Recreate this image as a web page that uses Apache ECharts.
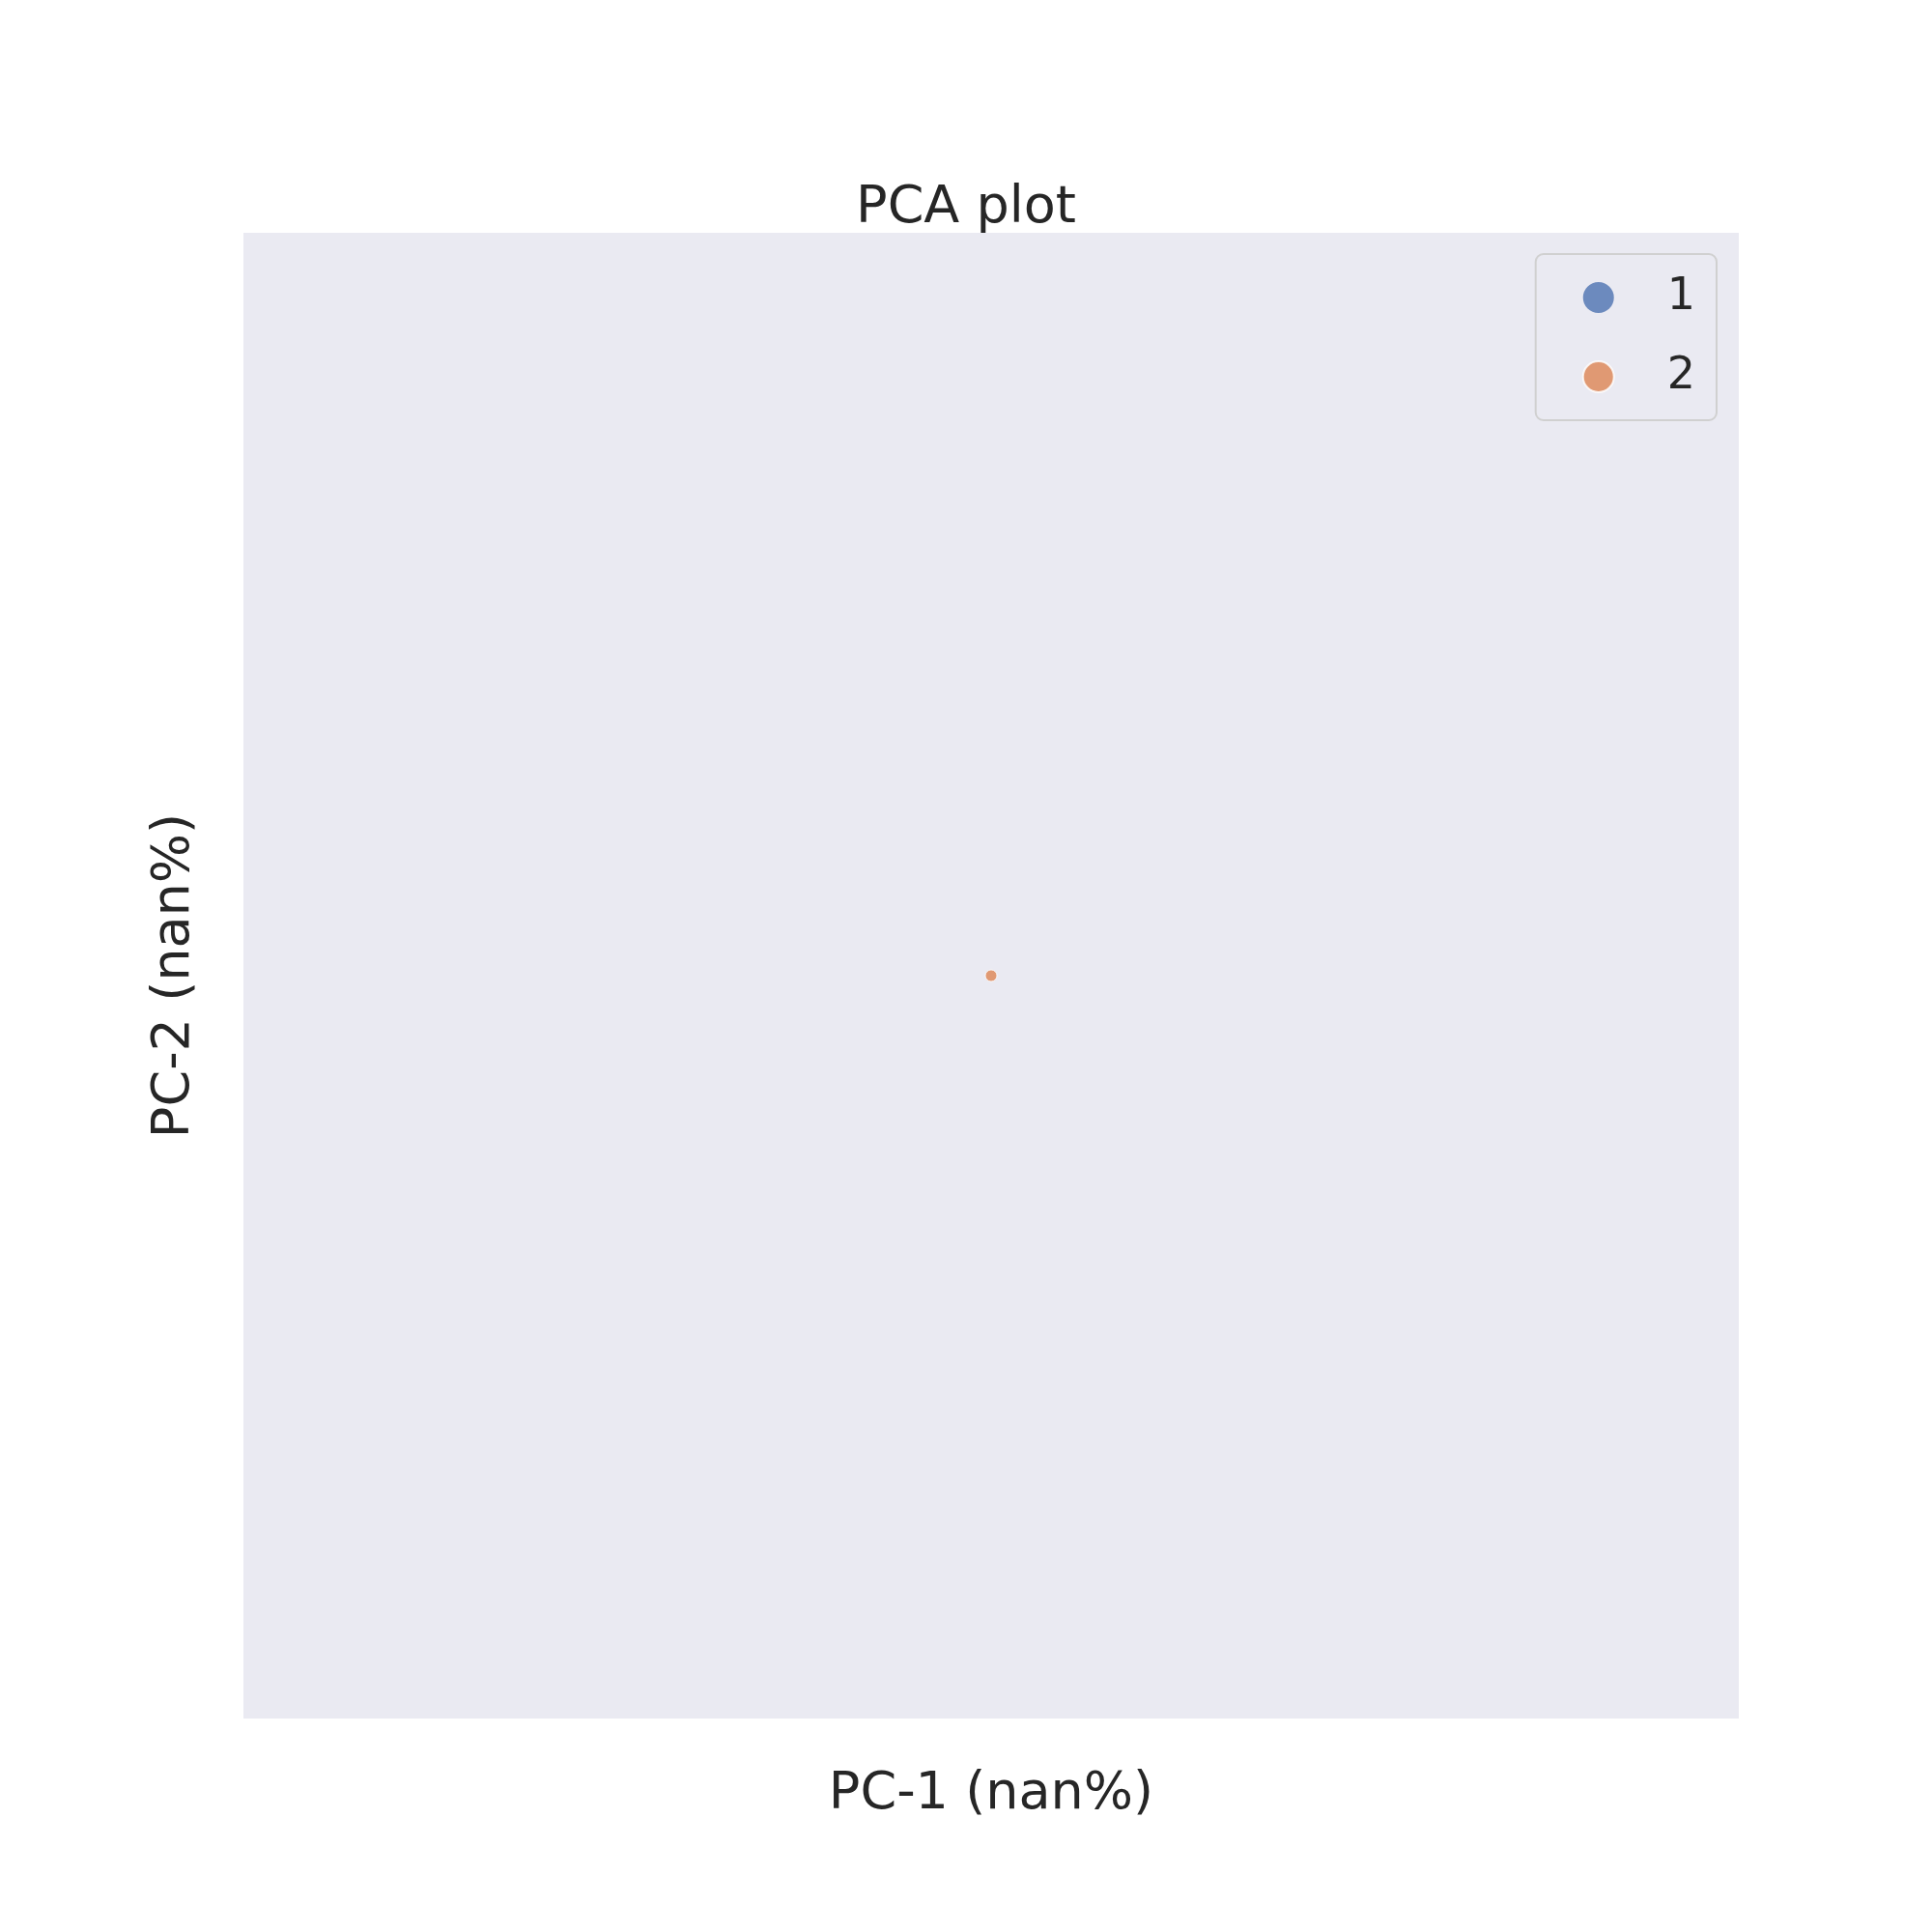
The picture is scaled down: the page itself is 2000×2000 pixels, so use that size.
<!DOCTYPE html>
<html><head><meta charset="utf-8">
<script src="https://cdn.jsdelivr.net/npm/echarts@6/dist/echarts.min.js"></script>
<style>html,body{margin:0;padding:0;background:#fff}#c{width:2000px;height:2000px}</style>
</head><body><div id="c"></div>
<script>
const seriesNames = ['1', '2'];
const series1Points = [];
const series2Points = [[0, 0]];
const colors = ['#4c72b0', '#dd8452'];
const chart = echarts.init(document.getElementById('c'));
const font = 'DejaVu Sans';
chart.setOption({
  animation: false,
  title: {text: 'PCA plot', left: 'center', top: 184, textStyle: {fontFamily: font, fontSize: 54, fontWeight: 'normal', color: '#262626'}},
  grid: {left: 252, top: 241, width: 1548, height: 1538, show: true, backgroundColor: '#eaeaf2', borderWidth: 0},
  xAxis: {type: 'value', min: -1, max: 1, name: 'PC-1 (nan%)', nameLocation: 'middle', nameGap: 52,
    nameTextStyle: {fontFamily: font, fontSize: 54, color: '#262626'},
    axisLine: {show: false}, axisTick: {show: false}, axisLabel: {show: false}, splitLine: {show: false}},
  yAxis: {type: 'value', min: -1, max: 1, name: 'PC-2 (nan%)', nameLocation: 'middle', nameGap: 44,
    nameTextStyle: {fontFamily: font, fontSize: 54, color: '#262626'},
    axisLine: {show: false}, axisTick: {show: false}, axisLabel: {show: false}, splitLine: {show: false}},
  legend: {orient: 'vertical', right: 223, top: 263, icon: 'circle', itemWidth: 32, itemHeight: 32, itemGap: 36,
    padding: [22, 22, 22, 48], backgroundColor: '#eaeaf2', borderColor: '#d0d0d0', borderWidth: 2, borderRadius: 8,
    textStyle: {fontFamily: font, fontSize: 46, color: '#262626', padding: [0, 0, 0, 50]},
    data: seriesNames},
  series: [
    {name: seriesNames[0], type: 'scatter', data: series1Points, symbolSize: 12, itemStyle: {color: colors[0]}},
    {name: seriesNames[1], type: 'scatter', data: series2Points, symbolSize: 12, itemStyle: {color: colors[1], borderColor: '#fff', borderWidth: 1}}
  ]
});
</script></body></html>
